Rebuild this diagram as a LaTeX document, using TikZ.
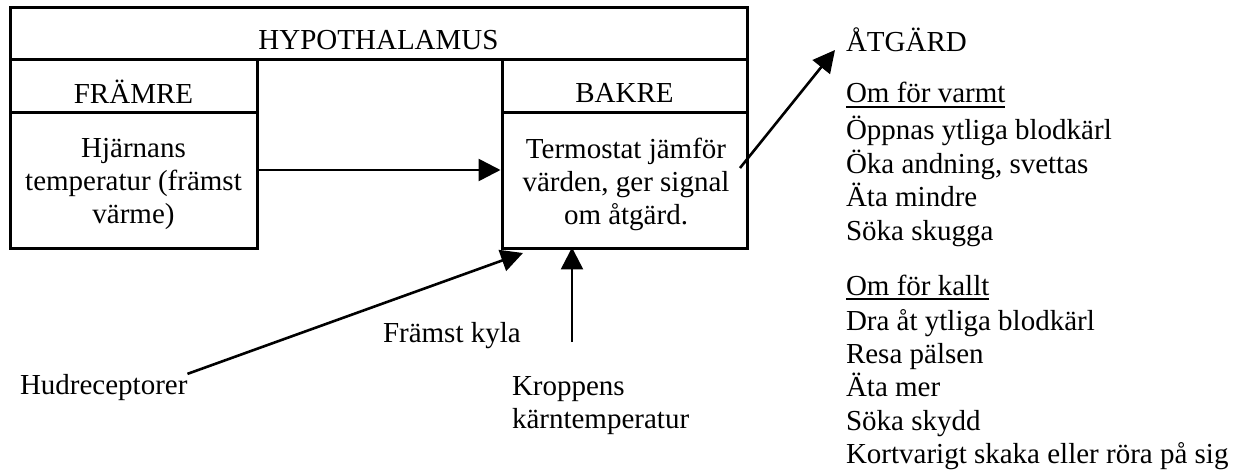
\documentclass[tikz,border=0pt]{standalone}
\usepackage{fontspec}
\setmainfont{Liberation Serif}
\usetikzlibrary{arrows.meta}
\newcommand\ulx[1]{\vtop{\hbox{#1}\kern1.4pt\hrule height 0.75pt}}
\begin{document}
\begin{tikzpicture}[x=0.5pt,y=-0.5pt,
  txt/.style={inner sep=0pt,outer sep=0pt,font=\fontsize{14.5pt}{16.5pt}\selectfont},
  box/.style={draw,line width=1.5pt,inner sep=0pt,rectangle},
  arr/.style={line width=1.3pt,-{Triangle[length=11pt,width=11pt]}}
]
\useasboundingbox (0,0) rectangle (1242,470);
% boxes
\node[box,minimum width=368.5pt,minimum height=26pt] (hyp) at (378.5,34) {};
\node[box,minimum width=123.5pt,minimum height=26.5pt] (frhead) at (133.5,86.5) {};
\node[box,minimum width=123.5pt,minimum height=68pt] (frbody) at (133.5,181) {};
\node[box,minimum width=122.5pt,minimum height=26.5pt] (bkhead) at (624.5,86.5) {};
\node[box,minimum width=122.5pt,minimum height=68pt] (bkbody) at (624.5,181) {};
% box texts
\node[txt,anchor=base] (hyptxt) at (378.5,50) {HYPOTHALAMUS};
\node[txt,anchor=base] (frtxt) at (133.5,104) {FRÄMRE};
\node[txt,anchor=base] (bktxt) at (624.5,103) {BAKRE};
\node[txt,align=center] (frbtxt) at (133.5,183.5) {Hjärnans\\temperatur (främst\\värme)};
\node[txt,align=center] (bkbtxt) at (626,184) {Termostat jämför\\värden, ger signal\\om åtgärd.};
% bottom labels
\node[txt,anchor=base west] (hud) at (20,394) {Hudreceptorer};
\node[txt,anchor=base west] (kyla) at (383,343) {Främst kyla};
\node[txt,anchor=base west] (kr1) at (512,395) {Kroppens};
\node[txt,anchor=base west] (kr2) at (512,428) {kärntemperatur};
% right column
\node[txt,anchor=base west] (atg) at (846,52) {ÅTGÄRD};
\node[txt,anchor=base west] (w0) at (846,103) {\ulx{Om för varmt}};
\node[txt,anchor=base west] (w1) at (846,140) {Öppnas ytliga blodkärl};
\node[txt,anchor=base west] (w2) at (846,173.5) {Öka andning, svettas};
\node[txt,anchor=base west] (w3) at (846,207) {Äta mindre};
\node[txt,anchor=base west] (w4) at (846,240.5) {Söka skugga};
\node[txt,anchor=base west] (c0) at (846,295) {\ulx{Om för kallt}};
\node[txt,anchor=base west] (c1) at (846,330) {Dra åt ytliga blodkärl};
\node[txt,anchor=base west] (c2) at (846,363) {Resa pälsen};
\node[txt,anchor=base west] (c3) at (846,396.5) {Äta mer};
\node[txt,anchor=base west] (c4) at (846,430) {Söka skydd};
\node[txt,anchor=base west] (c5) at (846,463.5) {Kortvarigt skaka eller röra på sig};
% connectors
\coordinate (hl) at (0,170);
\draw[arr] (frbody.east |- hl) -- (bkbody.west |- hl);
\draw[arr] (hud.north east) -- ([xshift=11.25pt,yshift=-1.25pt]bkbody.south west);
\coordinate (kstart) at (572,342);
\draw[arr] (kstart) -- ([yshift=1.5pt]kstart |- bkbody.south);
\coordinate (astart) at (740,168);
\draw[arr] (astart) -- ([xshift=-5.5pt,yshift=1pt]atg.base west);
\end{tikzpicture}
\end{document}
